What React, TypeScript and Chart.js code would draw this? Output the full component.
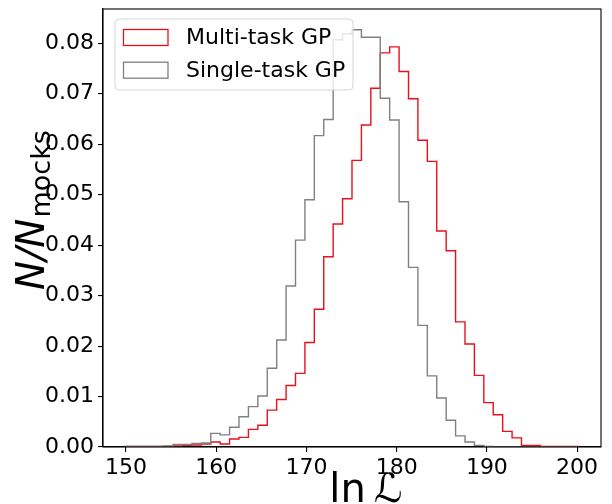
import React, { useEffect, useRef } from "react";
import { Chart, registerables } from "chart.js";

Chart.register(...registerables);

// Histogram bins (48 equal bins starting at 150)
const binStart = 150;
const binWidth = 1.04375;

// N/N_mocks per bin
const multiTask = [
  0.0001, 0.0001, 0.0001, 0.0001, 0.0001, 0.0002, 0.0003, 0.0004, 0.0006, 0.001,
  0.0006, 0.0016, 0.0019, 0.0035, 0.0043, 0.0073, 0.0094, 0.0122, 0.0146, 0.0207,
  0.0273, 0.0377, 0.0442, 0.0492, 0.0568, 0.0638, 0.0711, 0.0781, 0.0793, 0.0744,
  0.069, 0.0608, 0.0566, 0.0428, 0.0389, 0.0248, 0.0204, 0.0142, 0.0088, 0.0064,
  0.0031, 0.0018, 0.0003, 0.0003, 0.0001, 0.0001, 0.0001, 0.0001,
];
const singleTask = [
  0.0001, 0.0001, 0.0001, 0.0001, 0.0002, 0.0005, 0.0005, 0.0007, 0.0008, 0.0027,
  0.0024, 0.0039, 0.006, 0.008, 0.0101, 0.0156, 0.0212, 0.0319, 0.041, 0.049,
  0.0617, 0.0649, 0.0807, 0.0819, 0.0827, 0.0812, 0.0812, 0.0691, 0.0648, 0.0486,
  0.0356, 0.0241, 0.0141, 0.0097, 0.0053, 0.0022, 0.001, 0.0003, 0.0001, 0,
  0, 0, 0, 0, 0, 0, 0, 0,
];

const xTicks = [150, 160, 170, 180, 190, 200];
const yTicks = [0, 0.01, 0.02, 0.03, 0.04, 0.05, 0.06, 0.07, 0.08];
const seriesLabels = ["Multi-task GP", "Single-task GP"];
const seriesColors = ["#e8101c", "#808080"];

const FONT = '"DejaVu Sans", sans-serif';

function stepPoints(vals: number[]) {
  const pts: { x: number; y: number }[] = [{ x: binStart, y: 0 }];
  vals.forEach((v, i) => pts.push({ x: binStart + i * binWidth, y: v }));
  const end = binStart + vals.length * binWidth;
  pts.push({ x: end, y: vals[vals.length - 1] });
  pts.push({ x: end, y: 0 });
  return pts;
}

const decorPlugin = {
  id: "decor",
  afterDraw(chart: any) {
    const { ctx, chartArea } = chart;
    const { left, right, top, bottom } = chartArea;
    ctx.save();
    // full box spines
    ctx.strokeStyle = "#000";
    ctx.lineWidth = 1.1;
    ctx.strokeRect(left, top, right - left, bottom - top);

    // legend
    const lx = 115, ly = 19, lw = 238, lh = 71, r = 4;
    ctx.beginPath();
    ctx.moveTo(lx + r, ly);
    ctx.lineTo(lx + lw - r, ly);
    ctx.quadraticCurveTo(lx + lw, ly, lx + lw, ly + r);
    ctx.lineTo(lx + lw, ly + lh - r);
    ctx.quadraticCurveTo(lx + lw, ly + lh, lx + lw - r, ly + lh);
    ctx.lineTo(lx + r, ly + lh);
    ctx.quadraticCurveTo(lx, ly + lh, lx, ly + lh - r);
    ctx.lineTo(lx, ly + r);
    ctx.quadraticCurveTo(lx, ly, lx + r, ly);
    ctx.closePath();
    ctx.fillStyle = "rgba(255,255,255,0.8)";
    ctx.fill();
    ctx.strokeStyle = "rgba(204,204,204,0.8)";
    ctx.lineWidth = 1;
    ctx.stroke();

    ctx.font = `22px ${FONT}`;
    ctx.textBaseline = "middle";
    ctx.textAlign = "left";
    seriesLabels.forEach((lab, i) => {
      const cy = 37.5 + i * 32.7;
      ctx.fillStyle = "#fff";
      ctx.fillRect(123.5, cy - 8, 44.5, 16);
      ctx.strokeStyle = seriesColors[i];
      ctx.lineWidth = 1.3;
      ctx.strokeRect(123.5, cy - 8, 44.5, 16);
      ctx.fillStyle = "#000";
      ctx.fillText(lab, 186, cy + 1);
    });

    // y label: N/N_mocks
    ctx.save();
    ctx.translate(44, 290);
    ctx.rotate(-Math.PI / 2);
    ctx.textBaseline = "alphabetic";
    ctx.textAlign = "left";
    ctx.fillStyle = "#000";
    ctx.font = `italic 39px ${FONT}`;
    ctx.fillText("N/N", 0, 0);
    const w = ctx.measureText("N/N").width;
    ctx.font = `27px ${FONT}`;
    ctx.fillText("mocks", w + 1, 6);
    ctx.restore();

    // x label: ln L
    ctx.textBaseline = "alphabetic";
    ctx.textAlign = "center";
    ctx.fillStyle = "#000";
    ctx.font = `40px ${FONT}`;
    ctx.fillText("ln\u2009\u2112", 366, 502);
    ctx.restore();
  },
};

export default function App() {
  const ref = useRef<HTMLCanvasElement>(null);
  useEffect(() => {
    if (!ref.current) return;
    const chart = new Chart(ref.current, {
      type: "line",
      data: {
        datasets: [
          {
            label: seriesLabels[1],
            data: stepPoints(singleTask),
            borderColor: seriesColors[1],
            borderWidth: 1.4,
            stepped: "before",
            pointRadius: 0,
            fill: false,
          },
          {
            label: seriesLabels[0],
            data: stepPoints(multiTask),
            borderColor: seriesColors[0],
            borderWidth: 1.4,
            stepped: "before",
            pointRadius: 0,
            fill: false,
          },
        ],
      },
      options: {
        animation: false,
        responsive: false,
        layout: { padding: { left: 0, top: 9, right: 11, bottom: 0 } },
        plugins: { legend: { display: false }, tooltip: { enabled: false } },
        scales: {
          x: {
            type: "linear",
            min: 147.45,
            max: 202.65,
            afterBuildTicks: (s: any) => {
              s.ticks = xTicks.map((v) => ({ value: v }));
            },
            afterFit: (s: any) => {
              s.height = 57;
              s.paddingLeft = 0;
              s.paddingRight = 0;
            },
            ticks: {
              autoSkip: false,
              maxRotation: 0,
              padding: 3,
              color: "#000",
              font: { family: FONT, size: 22 },
              callback: (v: any) => String(v),
            },
            grid: { drawOnChartArea: false, drawTicks: true, tickLength: 5, color: "#000", lineWidth: 1.1 },
            border: { display: true, color: "#000", width: 1.1 },
          },
          y: {
            type: "linear",
            min: 0,
            max: 0.0868,
            afterBuildTicks: (s: any) => {
              s.ticks = yTicks.map((v) => ({ value: v }));
            },
            afterFit: (s: any) => {
              s.width = 103;
              s.paddingTop = 0;
              s.paddingBottom = 0;
            },
            ticks: {
              autoSkip: false,
              padding: 4,
              color: "#000",
              font: { family: FONT, size: 22 },
              callback: (v: any) => Number(v).toFixed(2),
            },
            grid: { drawOnChartArea: false, drawTicks: true, tickLength: 5, color: "#000", lineWidth: 1.1 },
            border: { display: true, color: "#000", width: 1.1 },
          },
        },
      },
      plugins: [decorPlugin],
    });
    return () => chart.destroy();
  }, []);
  return (
    <div style={{ position: "fixed", left: 0, top: 0, width: 612, height: 504, background: "#fff" }}>
      <canvas ref={ref} width={612} height={504} style={{ width: 612, height: 504, display: "block" }} />
    </div>
  );
}
